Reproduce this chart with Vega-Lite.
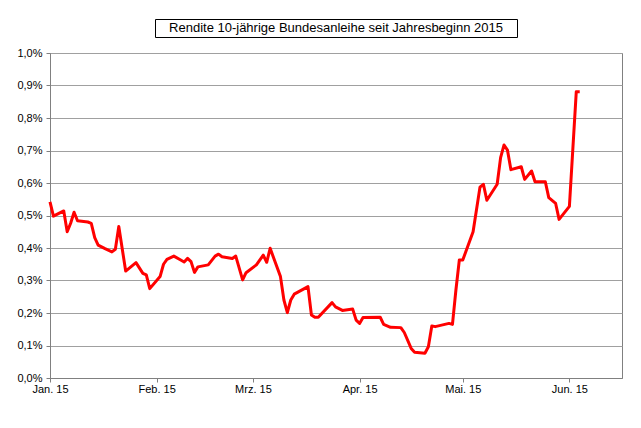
{
  "$schema": "https://vega.github.io/schema/vega-lite/v6.json",
  "autosize": {"type": "pad"},
  "padding": {"left": 16, "top": 18, "right": 5, "bottom": 5},
  "background": "white",
  "bounds": "flush",
  "spacing": 16,
  "center": true,
  "config": {
    "font": "Liberation Sans",
    "view": {"stroke": null}
  },
  "datasets": {
    "rendite": [
      {"datum": "2015-01-01", "rendite": 0.542},
      {"datum": "2015-01-02", "rendite": 0.498},
      {"datum": "2015-01-05", "rendite": 0.514},
      {"datum": "2015-01-06", "rendite": 0.450},
      {"datum": "2015-01-07", "rendite": 0.476},
      {"datum": "2015-01-08", "rendite": 0.510},
      {"datum": "2015-01-09", "rendite": 0.484},
      {"datum": "2015-01-12", "rendite": 0.480},
      {"datum": "2015-01-13", "rendite": 0.476},
      {"datum": "2015-01-14", "rendite": 0.432},
      {"datum": "2015-01-15", "rendite": 0.409},
      {"datum": "2015-01-17", "rendite": 0.398},
      {"datum": "2015-01-19", "rendite": 0.388},
      {"datum": "2015-01-20", "rendite": 0.396},
      {"datum": "2015-01-21", "rendite": 0.466},
      {"datum": "2015-01-23", "rendite": 0.329},
      {"datum": "2015-01-26", "rendite": 0.355},
      {"datum": "2015-01-28", "rendite": 0.322},
      {"datum": "2015-01-29", "rendite": 0.317},
      {"datum": "2015-01-30", "rendite": 0.275},
      {"datum": "2015-02-02", "rendite": 0.312},
      {"datum": "2015-02-03", "rendite": 0.350},
      {"datum": "2015-02-04", "rendite": 0.365},
      {"datum": "2015-02-06", "rendite": 0.375},
      {"datum": "2015-02-08", "rendite": 0.363},
      {"datum": "2015-02-09", "rendite": 0.357},
      {"datum": "2015-02-10", "rendite": 0.368},
      {"datum": "2015-02-11", "rendite": 0.358},
      {"datum": "2015-02-12", "rendite": 0.325},
      {"datum": "2015-02-13", "rendite": 0.342},
      {"datum": "2015-02-16", "rendite": 0.348},
      {"datum": "2015-02-18", "rendite": 0.375},
      {"datum": "2015-02-19", "rendite": 0.381},
      {"datum": "2015-02-20", "rendite": 0.373},
      {"datum": "2015-02-23", "rendite": 0.368},
      {"datum": "2015-02-24", "rendite": 0.375},
      {"datum": "2015-02-26", "rendite": 0.302},
      {"datum": "2015-02-27", "rendite": 0.324},
      {"datum": "2015-03-02", "rendite": 0.348},
      {"datum": "2015-03-04", "rendite": 0.378},
      {"datum": "2015-03-05", "rendite": 0.356},
      {"datum": "2015-03-06", "rendite": 0.399},
      {"datum": "2015-03-09", "rendite": 0.312},
      {"datum": "2015-03-10", "rendite": 0.240},
      {"datum": "2015-03-11", "rendite": 0.201},
      {"datum": "2015-03-12", "rendite": 0.240},
      {"datum": "2015-03-13", "rendite": 0.258},
      {"datum": "2015-03-17", "rendite": 0.281},
      {"datum": "2015-03-18", "rendite": 0.194},
      {"datum": "2015-03-19", "rendite": 0.187},
      {"datum": "2015-03-20", "rendite": 0.187},
      {"datum": "2015-03-24", "rendite": 0.232},
      {"datum": "2015-03-25", "rendite": 0.219},
      {"datum": "2015-03-27", "rendite": 0.208},
      {"datum": "2015-03-30", "rendite": 0.212},
      {"datum": "2015-03-31", "rendite": 0.178},
      {"datum": "2015-04-01", "rendite": 0.168},
      {"datum": "2015-04-02", "rendite": 0.186},
      {"datum": "2015-04-07", "rendite": 0.187},
      {"datum": "2015-04-08", "rendite": 0.165},
      {"datum": "2015-04-10", "rendite": 0.156},
      {"datum": "2015-04-13", "rendite": 0.155},
      {"datum": "2015-04-14", "rendite": 0.140},
      {"datum": "2015-04-16", "rendite": 0.091},
      {"datum": "2015-04-17", "rendite": 0.079},
      {"datum": "2015-04-20", "rendite": 0.076},
      {"datum": "2015-04-21", "rendite": 0.096},
      {"datum": "2015-04-22", "rendite": 0.160},
      {"datum": "2015-04-23", "rendite": 0.158},
      {"datum": "2015-04-27", "rendite": 0.168},
      {"datum": "2015-04-28", "rendite": 0.165},
      {"datum": "2015-04-29", "rendite": 0.270},
      {"datum": "2015-04-30", "rendite": 0.363},
      {"datum": "2015-05-01", "rendite": 0.363},
      {"datum": "2015-05-04", "rendite": 0.450},
      {"datum": "2015-05-06", "rendite": 0.587},
      {"datum": "2015-05-07", "rendite": 0.596},
      {"datum": "2015-05-08", "rendite": 0.547},
      {"datum": "2015-05-11", "rendite": 0.596},
      {"datum": "2015-05-12", "rendite": 0.678},
      {"datum": "2015-05-13", "rendite": 0.717},
      {"datum": "2015-05-14", "rendite": 0.701},
      {"datum": "2015-05-15", "rendite": 0.641},
      {"datum": "2015-05-18", "rendite": 0.650},
      {"datum": "2015-05-19", "rendite": 0.611},
      {"datum": "2015-05-21", "rendite": 0.637},
      {"datum": "2015-05-22", "rendite": 0.604},
      {"datum": "2015-05-25", "rendite": 0.604},
      {"datum": "2015-05-26", "rendite": 0.555},
      {"datum": "2015-05-28", "rendite": 0.537},
      {"datum": "2015-05-29", "rendite": 0.488},
      {"datum": "2015-06-01", "rendite": 0.528},
      {"datum": "2015-06-03", "rendite": 0.881},
      {"datum": "2015-06-04", "rendite": 0.881}
    ]
  },
  "vconcat": [
    {
      "width": 362,
      "height": 18,
      "data": {"values": [{"titel": "Rendite 10-jährige Bundesanleihe seit Jahresbeginn 2015"}]},
      "view": {"stroke": "black", "strokeWidth": 1, "fill": "white"},
      "mark": {"type": "text", "fontSize": 13, "color": "black", "baseline": "middle", "align": "center"},
      "encoding": {"text": {"field": "titel"}}
    },
    {
      "width": 572,
      "height": 325,
      "data": {"name": "rendite"},
      "view": {"stroke": "#808080", "strokeWidth": 1},
      "mark": {"type": "line", "color": "#ff0000", "strokeWidth": 3, "strokeJoin": "round"},
      "encoding": {
        "x": {
          "field": "datum",
          "type": "temporal",
          "scale": {
            "type": "utc",
            "nice": false,
            "domain": [
              {"year": 2015, "month": 1, "date": 1, "utc": true},
              {"year": 2015, "month": 6, "date": 16, "hours": 7, "utc": true}
            ]
          },
          "axis": {
            "title": null,
            "grid": false,
            "values": [
              {"year": 2015, "month": 1, "date": 1, "utc": true},
              {"year": 2015, "month": 2, "date": 1, "utc": true},
              {"year": 2015, "month": 3, "date": 1, "utc": true},
              {"year": 2015, "month": 4, "date": 1, "utc": true},
              {"year": 2015, "month": 5, "date": 1, "utc": true},
              {"year": 2015, "month": 6, "date": 1, "utc": true}
            ],
            "labelExpr": "['Jan.','Feb.','Mrz.','Apr.','Mai.','Jun.'][utcmonth(datum.value)] + ' 15'",
            "labelFontSize": 11,
            "labelColor": "black",
            "labelPadding": 1,
            "tickSize": 4,
            "tickColor": "#808080",
            "domainColor": "#808080",
            "labelFlush": false,
            "labelOverlap": false
          }
        },
        "y": {
          "field": "rendite",
          "type": "quantitative",
          "scale": {"domain": [0, 1.0], "nice": false, "zero": true},
          "axis": {
            "title": null,
            "values": [0, 0.1, 0.2, 0.3, 0.4, 0.5, 0.6, 0.7, 0.8, 0.9, 1.0],
            "labelExpr": "replace(format(datum.value, '.1f'), '.', ',') + '%'",
            "labelFontSize": 11,
            "labelColor": "black",
            "labelPadding": 4,
            "tickSize": 4,
            "tickColor": "#808080",
            "domainColor": "#808080",
            "gridColor": "#a0a0a0",
            "gridWidth": 1,
            "labelFlush": false,
            "labelOverlap": false
          }
        }
      }
    }
  ]
}
